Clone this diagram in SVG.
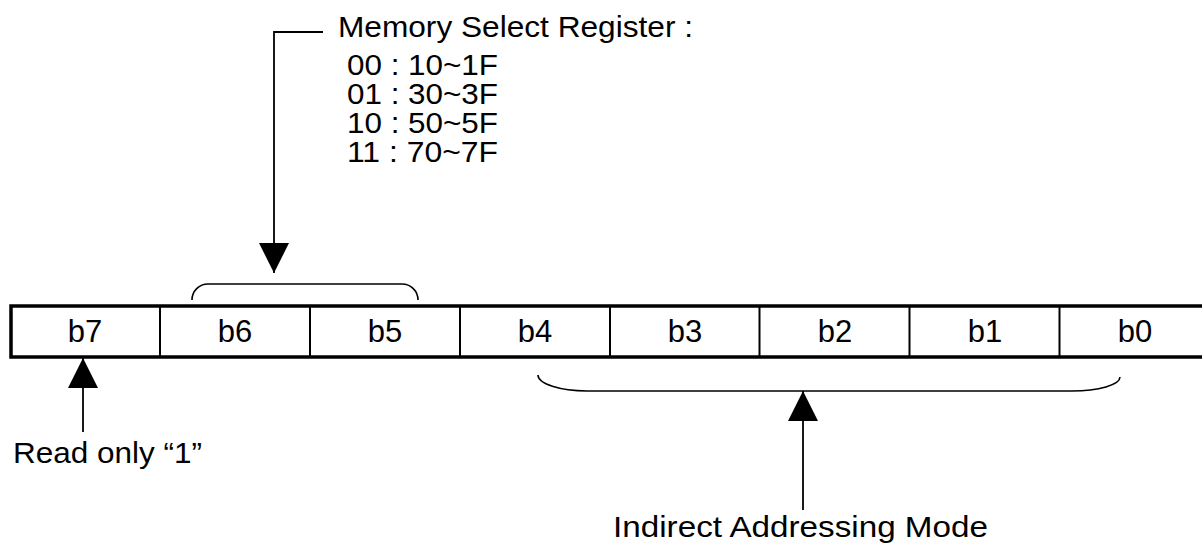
<svg xmlns="http://www.w3.org/2000/svg" width="1202" height="543" viewBox="0 0 1202 543">
<style>
text{font-family:"Liberation Sans",Arial,sans-serif;fill:#000}
.cell{font-size:31px;text-anchor:middle}
.lbl{font-size:29px}
.ln{fill:none;stroke:#000;stroke-width:1.8}
.br{fill:none;stroke:#000;stroke-width:1.6}
.div{stroke:#000;stroke-width:2}
</style>
<defs>
<marker id="ah" markerUnits="userSpaceOnUse" markerWidth="30" markerHeight="30" viewBox="0 0 30 30" refX="30" refY="15" orient="auto">
<path d="M0,0 L30,15 L0,30 Z" fill="#000"/>
</marker>
</defs>
<rect width="1202" height="543" fill="#fff"/>
<g id="register">
<rect x="11" y="306" width="1200" height="51" fill="#fff" stroke="#000" stroke-width="3.5"/>
<line class="div" x1="160" y1="306" x2="160" y2="357"/>
<line class="div" x1="310" y1="306" x2="310" y2="357"/>
<line class="div" x1="460" y1="306" x2="460" y2="357"/>
<line class="div" x1="610" y1="306" x2="610" y2="357"/>
<line class="div" x1="759.5" y1="306" x2="759.5" y2="357"/>
<line class="div" x1="909.5" y1="306" x2="909.5" y2="357"/>
<line class="div" x1="1059.5" y1="306" x2="1059.5" y2="357"/>
<g id="b7"><text class="cell" x="85" y="342">b7</text></g>
<g id="b6"><text class="cell" x="235" y="342">b6</text></g>
<g id="b5"><text class="cell" x="385" y="342">b5</text></g>
<g id="b4"><text class="cell" x="535" y="342">b4</text></g>
<g id="b3"><text class="cell" x="685" y="342">b3</text></g>
<g id="b2"><text class="cell" x="835" y="342">b2</text></g>
<g id="b1"><text class="cell" x="985" y="342">b1</text></g>
<g id="b0"><text class="cell" x="1135" y="342">b0</text></g>
</g>
<g id="memory-select">
<text class="lbl" x="338" y="37" textLength="355" lengthAdjust="spacingAndGlyphs">Memory Select Register :</text>
<text class="lbl" x="347" y="75" textLength="151" lengthAdjust="spacingAndGlyphs">00 : 10~1F</text>
<text class="lbl" x="347" y="104" textLength="151" lengthAdjust="spacingAndGlyphs">01 : 30~3F</text>
<text class="lbl" x="347" y="133" textLength="151" lengthAdjust="spacingAndGlyphs">10 : 50~5F</text>
<text class="lbl" x="347" y="162" textLength="151" lengthAdjust="spacingAndGlyphs">11 : 70~7F</text>
</g>
<g id="read-only">
<text class="lbl" x="13" y="463" textLength="189" lengthAdjust="spacingAndGlyphs">Read only “1”</text>
</g>
<g id="indirect">
<text class="lbl" x="613" y="537" textLength="375" lengthAdjust="spacingAndGlyphs">Indirect Addressing Mode</text>
</g>
<g id="connectors">
<path class="ln" d="M323,32 H274 V273" marker-end="url(#ah)"/>
<path class="ln" d="M83,432 V358" marker-end="url(#ah)"/>
<path class="ln" d="M803,510 V391" marker-end="url(#ah)"/>
<path class="br" d="M192,300 A16,16 0 0 1 208,284 H402 A16,16 0 0 1 418,300"/>
<path class="br" d="M538,375 A49,16 0 0 0 587,391 H1072 A48,14 0 0 0 1120,377"/>
</g>
</svg>
